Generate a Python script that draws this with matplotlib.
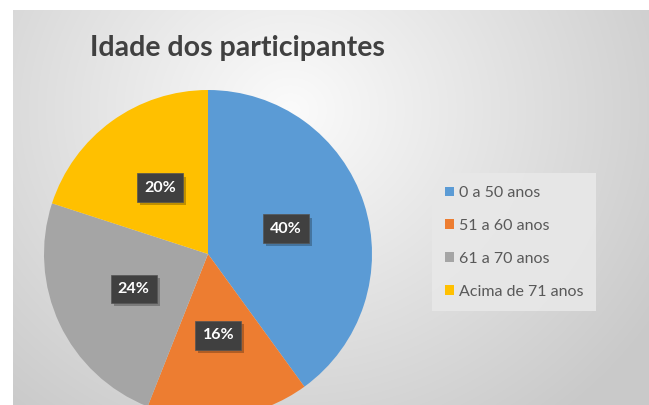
import numpy as np
import matplotlib
matplotlib.use("Agg")
from matplotlib import pyplot as plt
from matplotlib.patches import Shadow

# dados do grafico
categorias = ["0 a 50 anos", "51 a 60 anos", "61 a 70 anos", "Acima de 71 anos"]
valores = [40, 16, 24, 20]
cores = ["#5B9BD5", "#ED7D31", "#A5A5A5", "#FFC000"]
titulo = "Idade dos participantes"

W, H = 649, 405
fig = plt.figure(figsize=(W / 100, H / 100), dpi=100)
fig.patch.set_facecolor("white")
ax = fig.add_axes([0, 0, 1, 1])

# fundo com gradiente radial (estilo Excel)
x0, y0 = 13, 10
xx, yy = np.meshgrid(np.arange(x0, W), np.arange(y0, H))
d = np.hypot(xx - 290, (yy - 110) * 1.1)
g = np.clip(0.985 - d / 420 * 0.19, 0.79, 0.985)
img = np.dstack([g, g, g])
ax.imshow(img, extent=(x0, W, 0, H - y0), origin="upper", zorder=0)

# pizza: centro e raio em pixels
cx, cy, r = 208, H - 254, 164
wedges, _, autotexts = ax.pie(
    valores, colors=cores, startangle=90, counterclock=False,
    center=(cx, cy), radius=r, autopct="%1.0f%%", pctdistance=0.5,
    wedgeprops=dict(linewidth=0), textprops=dict(zorder=5),
)
for w in wedges:
    w.set_zorder(2)
for t in autotexts:
    t.set_color("white")
    t.set_fontweight("bold")
    t.set_fontsize(11.5)
    t.set_family("Lato")
    t.set_bbox(dict(boxstyle="square,pad=0.45", facecolor="#404040", edgecolor="#555555", linewidth=0.5))

ax.set_xlim(0, W)
ax.set_ylim(0, H)
ax.set_aspect("equal")
ax.axis("off")

fig.text(237 / W, 1 - 48 / H, titulo, ha="center", va="center", fontsize=20.5,
         fontweight="bold", color="#404040", family="Lato")

leg = ax.legend(wedges, categorias, loc="upper left", bbox_to_anchor=(437 / W, 1 - 178 / H),
                bbox_transform=fig.transFigure, frameon=True,
                labelspacing=1.18, handlelength=0.55, handleheight=0.55, handletextpad=0.3,
                borderpad=0.5, borderaxespad=0, prop=dict(family="Lato", size=11.5))
leg.get_frame().set_facecolor("#e8e8e8")
leg.get_frame().set_edgecolor("none")
leg.get_frame().set_boxstyle("square")
leg.get_frame().set_alpha(0.9)
for t in leg.get_texts():
    t.set_color("#595959")

# sombra das etiquetas (abaixo do texto)
fig.canvas.draw()
for t in autotexts:
    sh = Shadow(t.get_bbox_patch(), 2.2, -2.2, facecolor="black", alpha=0.25, edgecolor="none")
    sh.set_zorder(4)
    ax.add_artist(sh)

fig.savefig("out.png", dpi=100)
